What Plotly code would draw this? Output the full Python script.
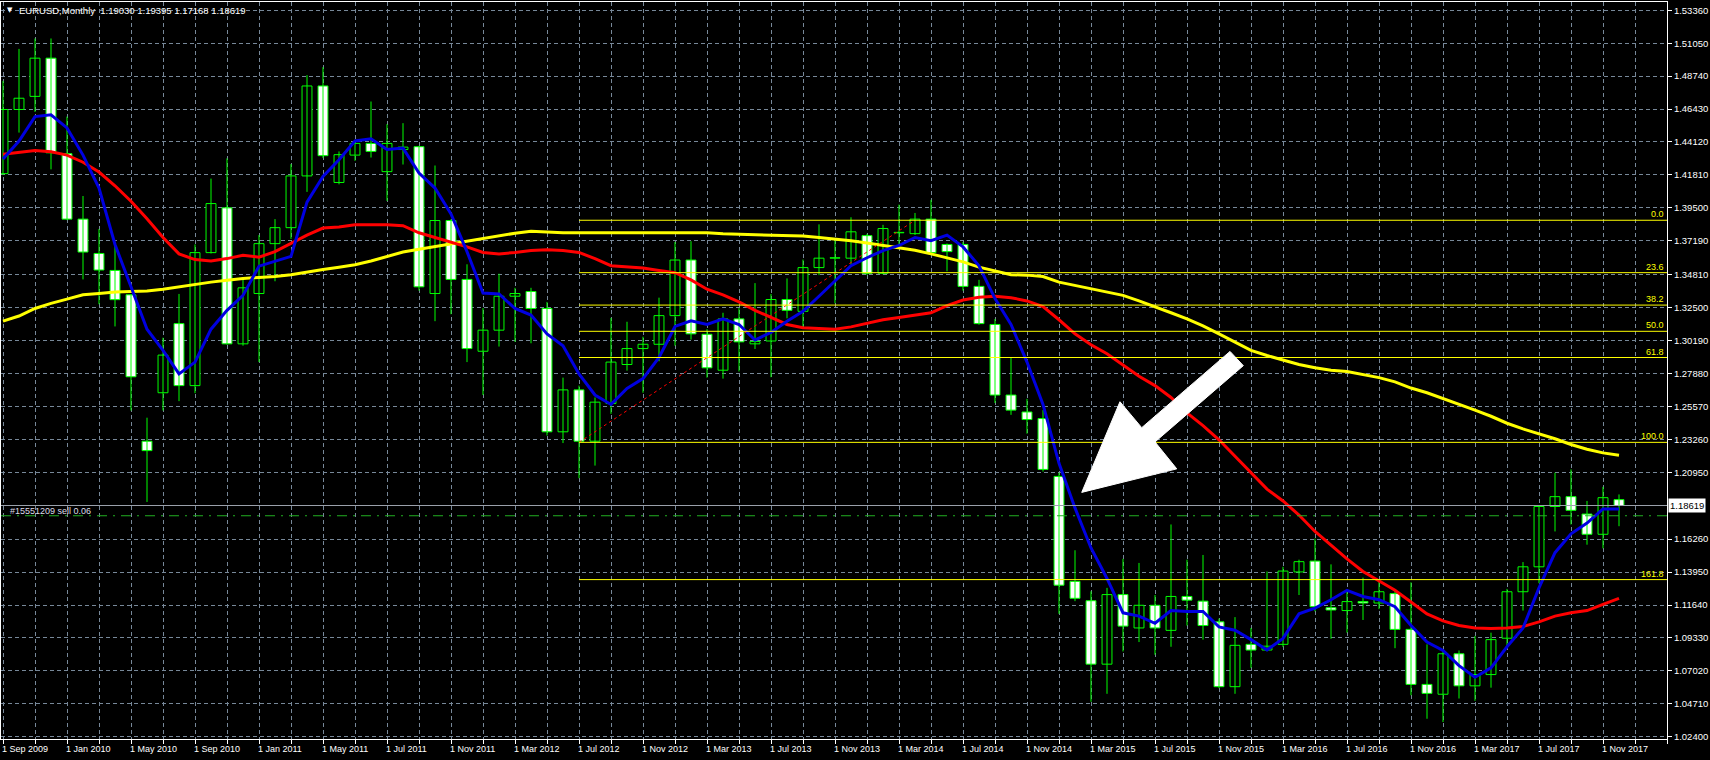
import plotly.graph_objects as go

# ---------------- data ----------------
bar_index = list(range(102))

opens = [1.4190, 1.4640, 1.4732, 1.5000, 1.4330, 1.3871, 1.3630, 1.3511, 1.3340, 1.2313,
         1.2653, 1.3138, 1.2703, 1.3636, 1.3950, 1.2996, 1.3349, 1.3699, 1.3811, 1.4174,
         1.4805, 1.4128, 1.4320, 1.4402, 1.4204, 1.4359, 1.4379, 1.3349, 1.3861, 1.3448,
         1.2944, 1.3092, 1.3330, 1.3363, 1.3244, 1.2379, 1.2673, 1.2313, 1.2577, 1.2851,
         1.2963, 1.2993, 1.3194, 1.3584, 1.3063, 1.2811, 1.3171, 1.2996, 1.3016, 1.3307,
         1.3224, 1.3531, 1.3597, 1.3597, 1.3755, 1.3491, 1.3775, 1.3769, 1.3871, 1.3693,
         1.3693, 1.3399, 1.3132, 1.2637, 1.2518, 1.2472, 1.2066, 1.1330, 1.1194, 1.0749,
         1.1237, 1.1003, 1.1162, 1.0986, 1.1224, 1.1191, 1.1046, 1.0591, 1.0888, 1.0848,
         1.0888, 1.1396, 1.1472, 1.1145, 1.1125, 1.1188, 1.1178, 1.1244, 1.0993, 1.0607,
         1.0538, 1.0822, 1.0597, 1.0676, 1.0931, 1.1257, 1.1432, 1.1855, 1.1924, 1.1802,
         1.1660, 1.19030]
highs = [1.4841, 1.5065, 1.5138, 1.5138, 1.4590, 1.4033, 1.3802, 1.3693, 1.3345, 1.2478,
         1.3039, 1.3346, 1.3693, 1.4155, 1.4297, 1.3462, 1.3759, 1.3871, 1.4257, 1.4881,
         1.4937, 1.4346, 1.4419, 1.4696, 1.4537, 1.4544, 1.4385, 1.4247, 1.3870, 1.3554,
         1.3247, 1.3488, 1.3389, 1.3389, 1.3290, 1.2759, 1.2703, 1.2620, 1.3178, 1.3151,
         1.3046, 1.3320, 1.3711, 1.3716, 1.3099, 1.3214, 1.3247, 1.3422, 1.3346, 1.3455,
         1.3587, 1.3834, 1.3726, 1.3884, 1.3768, 1.3831, 1.3973, 1.3914, 1.4006, 1.3700,
         1.3710, 1.3445, 1.3171, 1.2901, 1.2610, 1.2531, 1.2092, 1.1548, 1.1260, 1.1284,
         1.1488, 1.1459, 1.1234, 1.1729, 1.1482, 1.1515, 1.1069, 1.1079, 1.1003, 1.1399,
         1.1432, 1.1482, 1.1630, 1.1449, 1.1267, 1.1356, 1.1333, 1.1267, 1.1323, 1.0888,
         1.0845, 1.0845, 1.0947, 1.0970, 1.1277, 1.1465, 1.1861, 1.2092, 1.2115, 1.1894,
         1.1993, 1.19395]
lows = [1.4180, 1.4478, 1.4623, 1.4220, 1.3864, 1.3448, 1.3274, 1.3118, 1.2528, 1.1887,
        1.2528, 1.2594, 1.2650, 1.3630, 1.2990, 1.2983, 1.2868, 1.3435, 1.3732, 1.4062,
        1.4300, 1.4115, 1.4280, 1.4303, 1.3999, 1.4254, 1.3369, 1.3155, 1.3204, 1.2868,
        1.2637, 1.2977, 1.3010, 1.3000, 1.2353, 1.2300, 1.2053, 1.2142, 1.2505, 1.2808,
        1.2653, 1.2874, 1.2983, 1.3026, 1.2759, 1.2752, 1.2802, 1.2960, 1.2762, 1.3175,
        1.3109, 1.3478, 1.3280, 1.3551, 1.3478, 1.3484, 1.3693, 1.3760, 1.3630, 1.3505,
        1.3369, 1.3130, 1.2581, 1.2498, 1.2366, 1.2100, 1.1102, 1.1191, 1.0485, 1.0541,
        1.0838, 1.0904, 1.0815, 1.0871, 1.1020, 1.0921, 1.0580, 1.0541, 1.0723, 1.0840,
        1.0870, 1.1234, 1.1119, 1.0927, 1.0970, 1.1059, 1.1135, 1.0861, 1.0531, 1.0366,
        1.0343, 1.0508, 1.0492, 1.0584, 1.0868, 1.1125, 1.1317, 1.1680, 1.1729, 1.1587,
        1.1561, 1.17168]
closes = [1.4640, 1.4719, 1.5000, 1.4336, 1.3871, 1.3640, 1.3514, 1.3306, 1.2765, 1.2247,
          1.2917, 1.2703, 1.3636, 1.3980, 1.2996, 1.3389, 1.3699, 1.3811, 1.4174, 1.4805,
          1.4316, 1.4323, 1.4402, 1.4346, 1.4402, 1.4376, 1.3396, 1.3861, 1.3448, 1.2963,
          1.3092, 1.3330, 1.3349, 1.3244, 1.2379, 1.2673, 1.2313, 1.2587, 1.2868, 1.2963,
          1.2993, 1.3194, 1.3584, 1.3066, 1.2828, 1.3171, 1.3010, 1.3013, 1.3307, 1.3231,
          1.3531, 1.3597, 1.3600, 1.3782, 1.3491, 1.3805, 1.3778, 1.3871, 1.3636, 1.3643,
          1.3399, 1.3138, 1.2637, 1.2531, 1.2465, 1.2115, 1.1303, 1.1211, 1.0749, 1.1237,
          1.1016, 1.1162, 1.1003, 1.1224, 1.1198, 1.1020, 1.0591, 1.0881, 1.0848, 1.0875,
          1.1402, 1.1468, 1.1152, 1.1129, 1.1188, 1.1178, 1.1257, 1.0993, 1.0607, 1.0544,
          1.0822, 1.0597, 1.0676, 1.0921, 1.1257, 1.1432, 1.1855, 1.1924, 1.1828, 1.1660,
          1.1917, 1.18619]

ma_blue = [1.4293, 1.4419, 1.4590, 1.4603, 1.4511, 1.4320, 1.4089, 1.3693, 1.3396, 1.3099,
           1.2950, 1.2785, 1.2868, 1.3099, 1.3231, 1.3336, 1.3541, 1.3577, 1.3610, 1.3990,
           1.4171, 1.4287, 1.4419, 1.4435, 1.4359, 1.4369, 1.4194, 1.4089, 1.3907, 1.3643,
           1.3353, 1.3346, 1.3244, 1.3198, 1.3066, 1.2983, 1.2785, 1.2637, 1.2571, 1.2683,
           1.2752, 1.2901, 1.3118, 1.3158, 1.3132, 1.3171, 1.3132, 1.3023, 1.3076, 1.3155,
           1.3224, 1.3330, 1.3439, 1.3544, 1.3600, 1.3650, 1.3686, 1.3742, 1.3719, 1.3759,
           1.3676, 1.3544, 1.3313, 1.3132, 1.2868, 1.2571, 1.2158, 1.1845, 1.1564, 1.1350,
           1.1109, 1.1086, 1.1036, 1.1125, 1.1119, 1.1119, 1.1010, 1.0987, 1.0921, 1.0848,
           1.0930, 1.1102, 1.1142, 1.1201, 1.1267, 1.1224, 1.1201, 1.1152, 1.1020, 1.0904,
           1.0845, 1.0739, 1.0657, 1.0723, 1.0871, 1.1003, 1.1284, 1.1531, 1.1663, 1.1739,
           1.1838, 1.1838]
ma_red = [1.4326, 1.4339, 1.4353, 1.4343, 1.4320, 1.4270, 1.4201, 1.4105, 1.3996, 1.3874,
          1.3742, 1.3627, 1.3587, 1.3577, 1.3594, 1.3617, 1.3604, 1.3643, 1.3699, 1.3759,
          1.3808, 1.3815, 1.3831, 1.3831, 1.3831, 1.3825, 1.3775, 1.3742, 1.3709, 1.3676,
          1.3637, 1.3627, 1.3637, 1.3650, 1.3656, 1.3650, 1.3637, 1.3594, 1.3544, 1.3538,
          1.3528, 1.3511, 1.3495, 1.3445, 1.3379, 1.3340, 1.3290, 1.3231, 1.3181, 1.3132,
          1.3109, 1.3105, 1.3099, 1.3115, 1.3138, 1.3165, 1.3181, 1.3198, 1.3214, 1.3264,
          1.3303, 1.3323, 1.3330, 1.3320, 1.3297, 1.3257, 1.3165, 1.3066, 1.2990, 1.2927,
          1.2851, 1.2769, 1.2703, 1.2620, 1.2511, 1.2422, 1.2323, 1.2208, 1.2092, 1.1977,
          1.1894, 1.1795, 1.1680, 1.1581, 1.1488, 1.1399, 1.1333, 1.1267, 1.1185, 1.1102,
          1.1053, 1.1020, 1.1003, 1.1000, 1.1003, 1.1013, 1.1046, 1.1086, 1.1109, 1.1125,
          1.1168, 1.1211]
ma_yellow = [1.3155, 1.3191, 1.3244, 1.3280, 1.3310, 1.3340, 1.3349, 1.3359, 1.3363, 1.3366,
             1.3379, 1.3396, 1.3415, 1.3429, 1.3442, 1.3455, 1.3462, 1.3468, 1.3481, 1.3501,
             1.3518, 1.3534, 1.3551, 1.3577, 1.3607, 1.3640, 1.3660, 1.3679, 1.3699, 1.3719,
             1.3736, 1.3755, 1.3772, 1.3785, 1.3778, 1.3775, 1.3775, 1.3775, 1.3775, 1.3775,
             1.3778, 1.3778, 1.3778, 1.3778, 1.3775, 1.3768, 1.3765, 1.3762, 1.3759, 1.3755,
             1.3752, 1.3742, 1.3732, 1.3719, 1.3703, 1.3686, 1.3670, 1.3653, 1.3627, 1.3600,
             1.3571, 1.3534, 1.3505, 1.3481, 1.3478, 1.3468, 1.3429, 1.3406, 1.3386, 1.3363,
             1.3336, 1.3297, 1.3257, 1.3214, 1.3171, 1.3122, 1.3066, 1.3006, 1.2950, 1.2914,
             1.2884, 1.2851, 1.2828, 1.2811, 1.2802, 1.2779, 1.2759, 1.2729, 1.2686, 1.2653,
             1.2614, 1.2571, 1.2531, 1.2488, 1.2439, 1.2399, 1.2366, 1.2330, 1.2290, 1.2257,
             1.2231, 1.2214]

x_label_bars = list(range(0, 101, 4))
x_labels = ["1 Sep 2009", "1 Jan 2010", "1 May 2010", "1 Sep 2010", "1 Jan 2011",
            "1 May 2011", "1 Jul 2011", "1 Nov 2011", "1 Mar 2012", "1 Jul 2012",
            "1 Nov 2012", "1 Mar 2013", "1 Jul 2013", "1 Nov 2013", "1 Mar 2014",
            "1 Jul 2014", "1 Nov 2014", "1 Mar 2015", "1 Jul 2015", "1 Nov 2015",
            "1 Mar 2016", "1 Jul 2016", "1 Nov 2016", "1 Mar 2017", "1 Jul 2017",
            "1 Nov 2017"]
x_grid_bars = list(range(0, 105, 2))

y_tick_text = ["1.53360", "1.51050", "1.48740", "1.46430", "1.44120", "1.41810", "1.39500",
               "1.37190", "1.34810", "1.32500", "1.30190", "1.27880", "1.25570", "1.23260",
               "1.20950", "1.16260", "1.13950", "1.11640", "1.09330", "1.07020", "1.04710",
               "1.02400"]
y_tick_vals = [float(t) for t in y_tick_text]

fib_levels = [0.0, 23.6, 38.2, 50.0, 61.8, 100.0, 161.8]
fib_high = 1.3863
fib_low = 1.2305
fib_start_bar = 36
fib_end_bar = 57

bid_price = 1.18619
order_price = 1.1790
order_text = "#15551209 sell 0.06"
header_text = "EURUSD,Monthly  1.19030 1.19395 1.17168 1.18619"

arrow_bars = [67.42, 69.81, 71.17, 76.69, 77.52, 72.00, 73.36]
arrow_prices = [1.1954, 1.2590, 1.2408, 1.2943, 1.2843, 1.2308, 1.2119]

# ---------------- styling ----------------
BG = "#000000"
GRID = "#778899"
GREEN = "#00ff00"
FONT = "Liberation Sans, Arial, sans-serif"

fig = go.Figure()

# wicks
wx, wy = [], []
for i, h, l in zip(bar_index, highs, lows):
    wx += [i, i, None]
    wy += [l, h, None]
fig.add_trace(go.Scatter(x=wx, y=wy, mode="lines", line=dict(color=GREEN, width=1),
                         hoverinfo="skip", showlegend=False))

# bodies
bull = [(i, o, c) for i, o, c in zip(bar_index, opens, closes) if c >= o]
bear = [(i, o, c) for i, o, c in zip(bar_index, opens, closes) if c < o]
fig.add_trace(go.Bar(x=[b[0] for b in bull], y=[b[2] - b[1] for b in bull],
                     base=[b[1] for b in bull], width=0.62,
                     marker=dict(color=BG, line=dict(color=GREEN, width=1)),
                     hoverinfo="skip", showlegend=False))
fig.add_trace(go.Bar(x=[b[0] for b in bear], y=[b[1] - b[2] for b in bear],
                     base=[b[2] for b in bear], width=0.62,
                     marker=dict(color="#ffffff", line=dict(color=GREEN, width=1)),
                     hoverinfo="skip", showlegend=False))

# moving averages
fig.add_trace(go.Scatter(x=bar_index, y=ma_yellow, mode="lines",
                         line=dict(color="#ffff00", width=3), hoverinfo="skip", showlegend=False))
fig.add_trace(go.Scatter(x=bar_index, y=ma_red, mode="lines",
                         line=dict(color="#ff0000", width=3), hoverinfo="skip", showlegend=False))
fig.add_trace(go.Scatter(x=bar_index, y=ma_blue, mode="lines",
                         line=dict(color="#0000e0", width=3), hoverinfo="skip", showlegend=False))

# fibonacci base line (red dotted)
fig.add_trace(go.Scatter(x=[fib_start_bar, fib_end_bar], y=[fib_low, fib_high], mode="lines",
                         line=dict(color="#ff0000", width=1, dash="dot"),
                         hoverinfo="skip", showlegend=False))

X_MIN, X_MAX = -0.125, 104.0
Y_MIN, Y_MAX = 1.0224, 1.5394

annotations = []
shapes = []

# fib levels
for lvl in fib_levels:
    p = fib_high - (fib_high - fib_low) * lvl / 100.0
    shapes.append(dict(type="line", xref="x", yref="y", x0=fib_start_bar, x1=X_MAX,
                       y0=p, y1=p, line=dict(color="#ffff00", width=1), layer="above"))
    annotations.append(dict(xref="paper", yref="y", x=1, y=p, xanchor="right", yanchor="bottom",
                            xshift=-1, yshift=-1, text=f"{lvl:.1f}", showarrow=False,
                            font=dict(family=FONT, size=9, color="#ffff00")))

# bid line and order line
shapes.append(dict(type="line", xref="paper", yref="y", x0=0, x1=1, y0=bid_price, y1=bid_price,
                   line=dict(color="#9aa0aa", width=1), layer="above"))
shapes.append(dict(type="line", xref="paper", yref="y", x0=0, x1=1, y0=order_price, y1=order_price,
                   line=dict(color="#22b022", width=1, dash="10px,6px,2px,6px"), layer="above"))

# arrow
path = "M " + " L ".join(f"{x},{y}" for x, y in zip(arrow_bars, arrow_prices)) + " Z"
shapes.append(dict(type="path", xref="x", yref="y", path=path, fillcolor="#ffffff",
                   line=dict(color="#ffffff", width=1), layer="above"))

# x labels (left aligned at tick, MT4 style)
for b, t in zip(x_label_bars, x_labels):
    annotations.append(dict(xref="x", yref="paper", x=b, y=0, xanchor="left", yanchor="top",
                            xshift=-3, yshift=-3, text=t, showarrow=False,
                            font=dict(family=FONT, size=9, color="#ffffff")))

# header
annotations.append(dict(xref="paper", yref="paper", x=0.0025, y=0.9885, xanchor="left",
                        yanchor="middle", text="▼", showarrow=False,
                        font=dict(family="DejaVu Sans", size=7, color="#ffffff")))
annotations.append(dict(xref="paper", yref="paper", x=0.0095, y=0.9885, xanchor="left",
                        yanchor="middle", text=header_text, showarrow=False,
                        font=dict(family=FONT, size=9.5, color="#ffffff")))

# order label
annotations.append(dict(xref="paper", yref="y", x=0.004, y=order_price, xanchor="left",
                        yanchor="bottom", yshift=-2, text=order_text, showarrow=False,
                        font=dict(family=FONT, size=9, color="#dcdce8")))

# current price label on axis
annotations.append(dict(xref="paper", yref="y", x=1, y=bid_price, xanchor="left",
                        yanchor="middle", xshift=1, text=f"{bid_price:.5f}", showarrow=False,
                        bgcolor="#ffffff", borderpad=1,
                        font=dict(family=FONT, size=9.5, color="#000000")))

fig.update_layout(
    width=1710, height=760,
    margin=dict(l=1, r=43, t=2, b=21),
    paper_bgcolor=BG, plot_bgcolor=BG,
    barmode="overlay", showlegend=False,
    shapes=shapes, annotations=annotations,
    xaxis=dict(range=[X_MIN, X_MAX], tickvals=x_grid_bars, showticklabels=False,
               showgrid=True, gridcolor=GRID, griddash="4px,3px", gridwidth=1,
               ticks="outside", ticklen=4, tickcolor="#ffffff",
               showline=True, linecolor="#ffffff", linewidth=1, mirror=True,
               zeroline=False, fixedrange=True),
    yaxis=dict(range=[Y_MIN, Y_MAX], side="right", tickvals=y_tick_vals, ticktext=y_tick_text,
               showgrid=True, gridcolor=GRID, griddash="4px,3px", gridwidth=1,
               ticks="outside", ticklen=4, tickcolor="#ffffff",
               tickfont=dict(family=FONT, size=9.5, color="#ffffff"),
               showline=True, linecolor="#ffffff", linewidth=1, mirror=True,
               zeroline=False, fixedrange=True),
)

fig.write_html("out.html", config={"displayModeBar": False},
               post_script="document.body.style.margin='0';document.body.style.overflow='hidden';")
